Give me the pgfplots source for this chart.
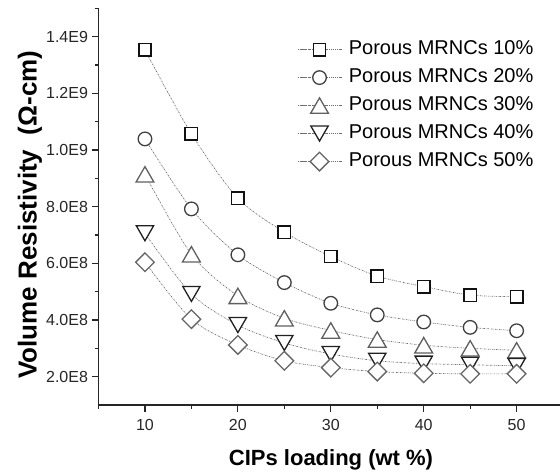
\documentclass[border=0pt]{standalone}
\usepackage{pgfplots}
\pgfplotsset{compat=1.18}
\usepackage{fontspec}
\setmainfont{Liberation Sans}
\pgfdeclareplotmark{otri}{%
  \pgfpathmoveto{\pgfqpoint{0pt}{0.75\pgfplotmarksize}}%
  \pgfpathlineto{\pgfqpoint{0.866\pgfplotmarksize}{-0.75\pgfplotmarksize}}%
  \pgfpathlineto{\pgfqpoint{-0.866\pgfplotmarksize}{-0.75\pgfplotmarksize}}%
  \pgfpathclose\pgfusepathqfillstroke}
\pgfdeclareplotmark{oinv}{%
  \pgfpathmoveto{\pgfqpoint{0pt}{-0.75\pgfplotmarksize}}%
  \pgfpathlineto{\pgfqpoint{0.866\pgfplotmarksize}{0.75\pgfplotmarksize}}%
  \pgfpathlineto{\pgfqpoint{-0.866\pgfplotmarksize}{0.75\pgfplotmarksize}}%
  \pgfpathclose\pgfusepathqfillstroke}
\pgfdeclareplotmark{odiam}{%
  \pgfpathmoveto{\pgfqpoint{0pt}{\pgfplotmarksize}}%
  \pgfpathlineto{\pgfqpoint{\pgfplotmarksize}{0pt}}%
  \pgfpathlineto{\pgfqpoint{0pt}{-\pgfplotmarksize}}%
  \pgfpathlineto{\pgfqpoint{-\pgfplotmarksize}{0pt}}%
  \pgfpathclose\pgfusepathqfillstroke}
\pgfdeclareplotmark{osq}{%
  \pgfpathrectangle{\pgfqpoint{-\pgfplotmarksize}{-\pgfplotmarksize}}{\pgfqpoint{2\pgfplotmarksize}{2\pgfplotmarksize}}%
  \pgfusepathqfillstroke}
\definecolor{cA}{HTML}{111111}
\definecolor{cB}{HTML}{404040}
\definecolor{cC}{HTML}{606060}
\definecolor{cD}{HTML}{202020}
\definecolor{cE}{HTML}{666666}
\definecolor{lnc}{HTML}{707070}
\begin{document}
\begin{tikzpicture}
\useasboundingbox (0,0) rectangle (560pt,473pt);
\begin{axis}[
  at={(98.5pt,68pt)}, anchor=south west,
  scale only axis, width=461.8pt, height=396.7pt,
  xmin=5, xmax=54.7, ymin=1e8, ymax=1.5e9,
  axis lines=left, axis line style={-, line width=1.6pt, color=black!85},
  tick align=outside, tick style={line width=1.2pt, color=black!85},
  major tick length=7pt, minor tick length=4pt,
  xtick={10,20,30,40,50}, minor xtick={5,15,25,35,45},
  ytick={2e8,4e8,6e8,8e8,1e9,1.2e9,1.4e9},
  yticklabels={2.0E8,4.0E8,6.0E8,8.0E8,1.0E9,1.2E9,1.4E9},
  minor ytick={3e8,5e8,7e8,9e8,1.1e9,1.3e9,1.5e9},
  scaled y ticks=false,
  /pgf/number format/assume math mode=true,
  ticklabel style={font=\fontsize{16}{19}\selectfont, color=black!85},
  xticklabel style={yshift=-4pt},
  xlabel={CIPs loading (wt \%)},
  ylabel={Volume Resistivity\ \ (Ω-cm)},
  every axis x label/.style={at={(axis description cs:0.5035,-0.153)}, anchor=base, font=\fontsize{22}{26}\selectfont\bfseries},
  every axis y label/.style={at={(axis description cs:-0.1338,0.4795)}, anchor=base, rotate=90, font=\fontsize{26}{30}\selectfont\bfseries},
  legend style={at={(axis description cs:0.4298,0.921)}, anchor=north west, draw=none, fill=none,
    font=\fontsize{20}{24}\selectfont, inner sep=0pt, row sep=8.5pt,
    nodes={inner sep=0pt, text height=15pt, text depth=4.5pt},
    /tikz/every odd column/.append style={column sep=7pt}},
  legend cell align=left,
  legend image code/.code={\draw[mark repeat=2,mark phase=2,#1] plot coordinates {(0pt,0pt) (22pt,0pt) (44pt,0pt)};},
  every axis plot/.append style={smooth, tension=0.5, line width=0.7pt, dash pattern=on 1.5pt off 1pt on 0.4pt off 1pt},
]
\addplot[color=lnc, mark=osq, mark size=6.2pt, mark options={draw=cA, fill=white, line width=1.5pt, solid}]
 coordinates {(10,1.353e9) (15,1.057e9) (20,8.30e8) (25,7.10e8) (30,6.24e8) (35,5.55e8) (40,5.18e8) (45,4.88e8) (50,4.82e8)};
\addlegendentry{Porous MRNCs 10\%}
\addplot[color=lnc, mark=*, mark size=6.8pt, mark options={draw=cB, fill=white, line width=1.3pt, solid}]
 coordinates {(10,1.039e9) (15,7.92e8) (20,6.30e8) (25,5.32e8) (30,4.59e8) (35,4.18e8) (40,3.93e8) (45,3.74e8) (50,3.62e8)};
\addlegendentry{Porous MRNCs 20\%}
\addplot[color=lnc, mark=otri, mark size=10.3pt, mark options={draw=cC, fill=white, line width=1.3pt, solid}]
 coordinates {(10,9.14e8) (15,6.32e8) (20,4.85e8) (25,4.06e8) (30,3.63e8) (35,3.31e8) (40,3.11e8) (45,3.00e8) (50,2.93e8)};
\addlegendentry{Porous MRNCs 30\%}
\addplot[color=lnc, mark=oinv, mark size=10pt, mark options={draw=cD, fill=white, line width=1.3pt, solid}]
 coordinates {(10,7.06e8) (15,4.92e8) (20,3.82e8) (25,3.19e8) (30,2.80e8) (35,2.56e8) (40,2.46e8) (45,2.42e8) (50,2.38e8)};
\addlegendentry{Porous MRNCs 40\%}
\addplot[color=lnc, mark=odiam, mark size=9.3pt, mark options={draw=cE, fill=white, line width=1.3pt, solid}]
 coordinates {(10,6.04e8) (15,4.03e8) (20,3.12e8) (25,2.56e8) (30,2.32e8) (35,2.18e8) (40,2.12e8) (45,2.10e8) (50,2.10e8)};
\addlegendentry{Porous MRNCs 50\%}
\end{axis}
\end{tikzpicture}
\end{document}
